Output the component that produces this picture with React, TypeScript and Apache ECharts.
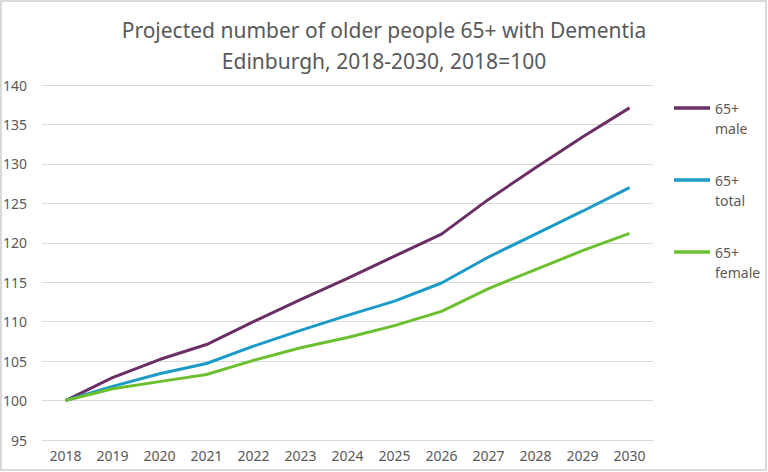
import React, { useEffect, useRef } from "react";
import * as echarts from "echarts";

const years = ["2018", "2019", "2020", "2021", "2022", "2023", "2024", "2025", "2026", "2027", "2028", "2029", "2030"];
const male = [100, 102.9, 105.2, 107.1, 110.0, 112.8, 115.5, 118.3, 121.1, 125.5, 129.5, 133.4, 137.1];
const total = [100, 101.8, 103.4, 104.7, 106.9, 108.9, 110.8, 112.6, 114.9, 118.2, 121.1, 124.0, 127.0];
const female = [100, 101.5, 102.4, 103.3, 105.1, 106.7, 108.0, 109.5, 111.3, 114.2, 116.6, 119.0, 121.2];
const seriesNames = ["65+\nmale", "65+\ntotal", "65+\nfemale"];
const titleText = "Projected number of older people 65+ with Dementia\nEdinburgh, 2018-2030, 2018=100";

const FONT = "'Noto Sans', 'Open Sans', sans-serif";
const GREY = "#595959";

export default function App() {
  const ref = useRef<HTMLDivElement>(null);
  useEffect(() => {
    if (!ref.current) return;
    const chart = echarts.init(ref.current, null, { renderer: "svg" });
    const colors = ["#6b2f66", "#1b9bc8", "#6cbf2f"];
    const data = [male, total, female];
    chart.setOption({
      animation: false,
      backgroundColor: "#ffffff",
      title: {
        text: titleText,
        left: "center",
        top: 9,
        textStyle: { fontFamily: FONT, fontSize: 21, fontWeight: "normal", color: GREY, lineHeight: 31 },
      },
      graphic: [
        {
          type: "rect",
          shape: { x: 1, y: 1, width: 765, height: 469 },
          style: { fill: "none", stroke: "#d9d9d9", lineWidth: 2 },
          silent: true,
        },
      ],
      grid: { left: 42, right: 115, top: 85, bottom: 32, containLabel: false },
      legend: {
        orient: "vertical",
        left: 674,
        top: 78,
        padding: 0,
        itemGap: 12,
        icon: "rect",
        itemWidth: 36,
        itemHeight: 3.5,
        data: seriesNames,
        formatter: (n: string) => "\n" + n,
        textStyle: { fontFamily: FONT, fontSize: 14, color: GREY, lineHeight: 20 },
      },
      xAxis: {
        type: "category",
        data: years,
        boundaryGap: true,
        axisLine: { show: true, lineStyle: { color: "#d9d9d9", width: 1 } },
        axisTick: { show: false },
        axisLabel: { fontFamily: FONT, fontSize: 14, color: GREY, margin: 8, interval: 0 },
      },
      yAxis: {
        type: "value",
        min: 95,
        max: 140,
        interval: 5,
        axisLine: { show: false },
        axisTick: { show: false },
        splitLine: { lineStyle: { color: "#d9d9d9", width: 1 } },
        axisLabel: { fontFamily: FONT, fontSize: 14, color: GREY, margin: 15 },
      },
      series: seriesNames.map((name, i) => ({
        name,
        type: "line",
        data: data[i],
        symbol: "none",
        lineStyle: { color: colors[i], width: 3 },
        itemStyle: { color: colors[i] },
      })),
    });
    return () => chart.dispose();
  }, []);
  return <div ref={ref} style={{ position: "fixed", left: 0, top: 0, width: 768, height: 472 }} />;
}
